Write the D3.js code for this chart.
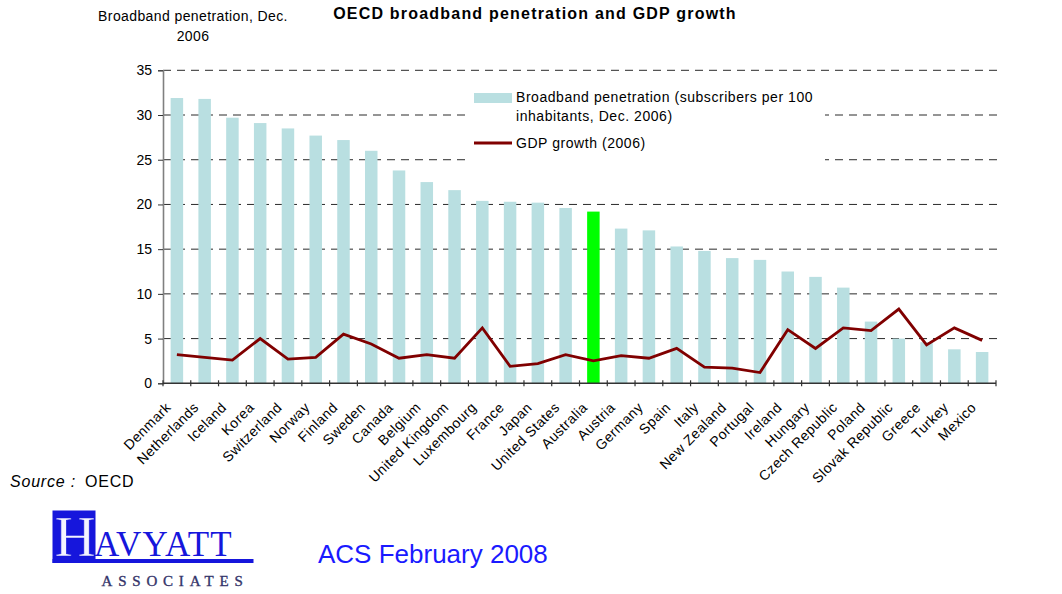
<!DOCTYPE html>
<html>
<head>
<meta charset="utf-8">
<script src="https://cdn.jsdelivr.net/npm/d3@7"></script>
<style>
  html, body { margin: 0; padding: 0; background: #fff; }
  svg { display: block; font-family: "Liberation Sans", Arial, sans-serif; }
</style>
</head>
<body>
<svg id="chart" width="1062" height="594"></svg>
<script>
// OECD countries, ordered by broadband penetration
const countries = ["Denmark", "Netherlands", "Iceland", "Korea", "Switzerland", "Norway",
  "Finland", "Sweden", "Canada", "Belgium", "United Kingdom", "Luxembourg", "France",
  "Japan", "United States", "Australia", "Austria", "Germany", "Spain", "Italy",
  "New Zealand", "Portugal", "Ireland", "Hungary", "Czech Republic", "Poland",
  "Slovak Republic", "Greece", "Turkey", "Mexico"];

// Broadband subscribers per 100 inhabitants, Dec. 2006
const broadband = [31.9, 31.8, 29.7, 29.1, 28.5, 27.7, 27.2, 26.0, 23.8, 22.5, 21.6, 20.4,
  20.3, 20.2, 19.6, 19.2, 17.3, 17.1, 15.3, 14.8, 14.0, 13.8, 12.5, 11.9, 10.7, 6.9,
  5.0, 4.6, 3.8, 3.5];

// GDP growth, 2006 (%)
const gdpGrowth = [3.2, 2.9, 2.6, 5.0, 2.7, 2.9, 5.5, 4.4, 2.8, 3.2, 2.8, 6.2,
  1.9, 2.2, 3.2, 2.5, 3.1, 2.8, 3.9, 1.8, 1.7, 1.2, 6.0, 3.9, 6.2, 5.9,
  8.3, 4.3, 6.2, 4.8];

const highlight = "Australia";
const yTicks = [0, 5, 10, 15, 20, 25, 30, 35];

(function draw() {
  const svg = d3.select("#chart");

  const plotLeft = 163, plotRight = 996, plotTop = 70.3, plotBottom = 383.3;

  const x = d3.scaleBand()
    .domain(countries)
    .range([plotLeft, plotRight])
    .paddingInner(0.55)
    .paddingOuter(0.275);

  const y = d3.scaleLinear().domain([0, 35]).range([plotBottom, plotTop]);

  const cx = d => x(d) + x.bandwidth() / 2;

  // Title
  svg.append("text")
    .attr("x", 535).attr("y", 18.5)
    .attr("text-anchor", "middle")
    .style("font-size", "16px").style("font-weight", "bold")
    .style("letter-spacing", "1.2px")
    .text("OECD broadband penetration and GDP growth");

  // Y-axis caption
  const yCap = svg.append("text")
    .attr("text-anchor", "middle")
    .style("font-size", "14px").style("letter-spacing", "0.4px");
  yCap.append("tspan").attr("x", 193).attr("y", 20.5).text("Broadband penetration, Dec.");
  yCap.append("tspan").attr("x", 193).attr("y", 40.5).text("2006");

  // Dashed gridlines
  svg.append("g")
    .selectAll("line")
    .data(yTicks.filter(v => v > 0))
    .join("line")
    .attr("x1", plotLeft).attr("x2", 998)
    .attr("y1", d => y(d)).attr("y2", d => y(d))
    .attr("stroke", "#2a2a2a").attr("stroke-width", 1)
    .attr("stroke-dasharray", "8,6");

  // Bars
  svg.append("g")
    .selectAll("rect")
    .data(countries)
    .join("rect")
    .attr("x", d => x(d))
    .attr("width", x.bandwidth())
    .attr("y", (d, i) => y(broadband[i]))
    .attr("height", (d, i) => y(0) - y(broadband[i]))
    .attr("fill", d => d === highlight ? "#00FF00" : "#B9DFE1");

  // Y axis
  const yAxis = d3.axisLeft(y).tickValues(yTicks).tickSize(5).tickPadding(6);
  const gy = svg.append("g").attr("transform", `translate(${plotLeft},0)`).call(yAxis);
  gy.select(".domain").attr("stroke", "#808080").attr("stroke-width", 1.6);
  gy.selectAll(".tick line").attr("stroke", "#333");
  gy.selectAll(".tick text")
    .style("font-size", "14px").style("font-family", "Liberation Sans, Arial, sans-serif")
    .attr("fill", "#000");

  // X axis baseline with ticks at category boundaries
  const bounds = countries.map(d => x(d) - (x.step() - x.bandwidth()) / 2).concat([plotRight]);
  const gx = svg.append("g");
  gx.append("line")
    .attr("x1", plotLeft).attr("x2", plotRight)
    .attr("y1", y(0)).attr("y2", y(0))
    .attr("stroke", "#333").attr("stroke-width", 1.6);
  gx.selectAll("line.tk")
    .data(bounds)
    .join("line").attr("class", "tk")
    .attr("x1", d => d).attr("x2", d => d)
    .attr("y1", y(0) - 3).attr("y2", y(0) + 3)
    .attr("stroke", "#333").attr("stroke-width", 1.2);

  // Country labels, rotated
  gx.selectAll("text")
    .data(countries)
    .join("text")
    .attr("transform", d => `translate(${cx(d) - 5},${plotBottom + 25}) rotate(-45)`)
    .attr("text-anchor", "end")
    .style("font-size", "14px").style("letter-spacing", "0.45px")
    .text(d => d);

  // GDP growth line
  const line = d3.line()
    .x((d, i) => cx(countries[i]))
    .y(d => y(d));
  svg.append("path")
    .datum(gdpGrowth)
    .attr("d", line)
    .attr("fill", "none")
    .attr("stroke", "#800000")
    .attr("stroke-width", 2.8)
    .attr("stroke-linejoin", "miter");

  // Legend
  const lg = svg.append("g");
  lg.append("rect").attr("x", 465).attr("y", 76).attr("width", 360).attr("height", 90).attr("fill", "#fff");
  lg.append("rect").attr("x", 474).attr("y", 93).attr("width", 38).attr("height", 10).attr("fill", "#B9DFE1");
  const lt = lg.append("text").style("font-size", "14px").style("letter-spacing", "0.55px");
  lt.append("tspan").attr("x", 516).attr("y", 102).text("Broadband penetration (subscribers per 100");
  lt.append("tspan").attr("x", 516).attr("y", 121).text("inhabitants, Dec. 2006)");
  lg.append("line").attr("x1", 474).attr("x2", 512).attr("y1", 143).attr("y2", 143)
    .attr("stroke", "#800000").attr("stroke-width", 3);
  lg.append("text").attr("x", 516).attr("y", 147.5)
    .style("font-size", "14px").style("letter-spacing", "0.55px")
    .text("GDP growth (2006)");

  // Source note
  const src = svg.append("text").attr("x", 10).attr("y", 487)
    .style("font-size", "16px").style("letter-spacing", "0.8px");
  src.append("tspan").style("font-style", "italic").text("Source :");
  src.append("tspan").attr("x", 85).text("OECD");

  // Havyatt Associates logo
  const logoBlue = "#1616DC";
  const logo = svg.append("g").style("font-family", "Liberation Serif, Times New Roman, serif");
  logo.append("rect").attr("x", 52.5).attr("y", 510.5).attr("width", 43).attr("height", 52.5).attr("fill", logoBlue);
  logo.append("rect").attr("x", 52.5).attr("y", 559).attr("width", 201).attr("height", 4).attr("fill", logoBlue);
  logo.append("text").attr("x", 75).attr("y", 555.5).attr("text-anchor", "middle")
    .style("font-size", "57px").attr("fill", "#f4f4ff").attr("stroke", logoBlue).attr("stroke-width", 0.6)
    .text("H");
  logo.append("text").attr("x", 94).attr("y", 555.5)
    .style("font-size", "35px").style("letter-spacing", "1.2px").attr("fill", logoBlue)
    .text("AVYATT");
  logo.append("text").attr("x", 101.5).attr("y", 586)
    .style("font-size", "15px").style("letter-spacing", "5.8px")
    .attr("fill", "#34346a").attr("stroke", "#34346a").attr("stroke-width", 0.35)
    .text("ASSOCIATES");

  // Presentation footer
  svg.append("text").attr("x", 318).attr("y", 563)
    .style("font-size", "26px").attr("fill", "#1a1aff")
    .text("ACS February 2008");
})();
</script>
</body>
</html>
